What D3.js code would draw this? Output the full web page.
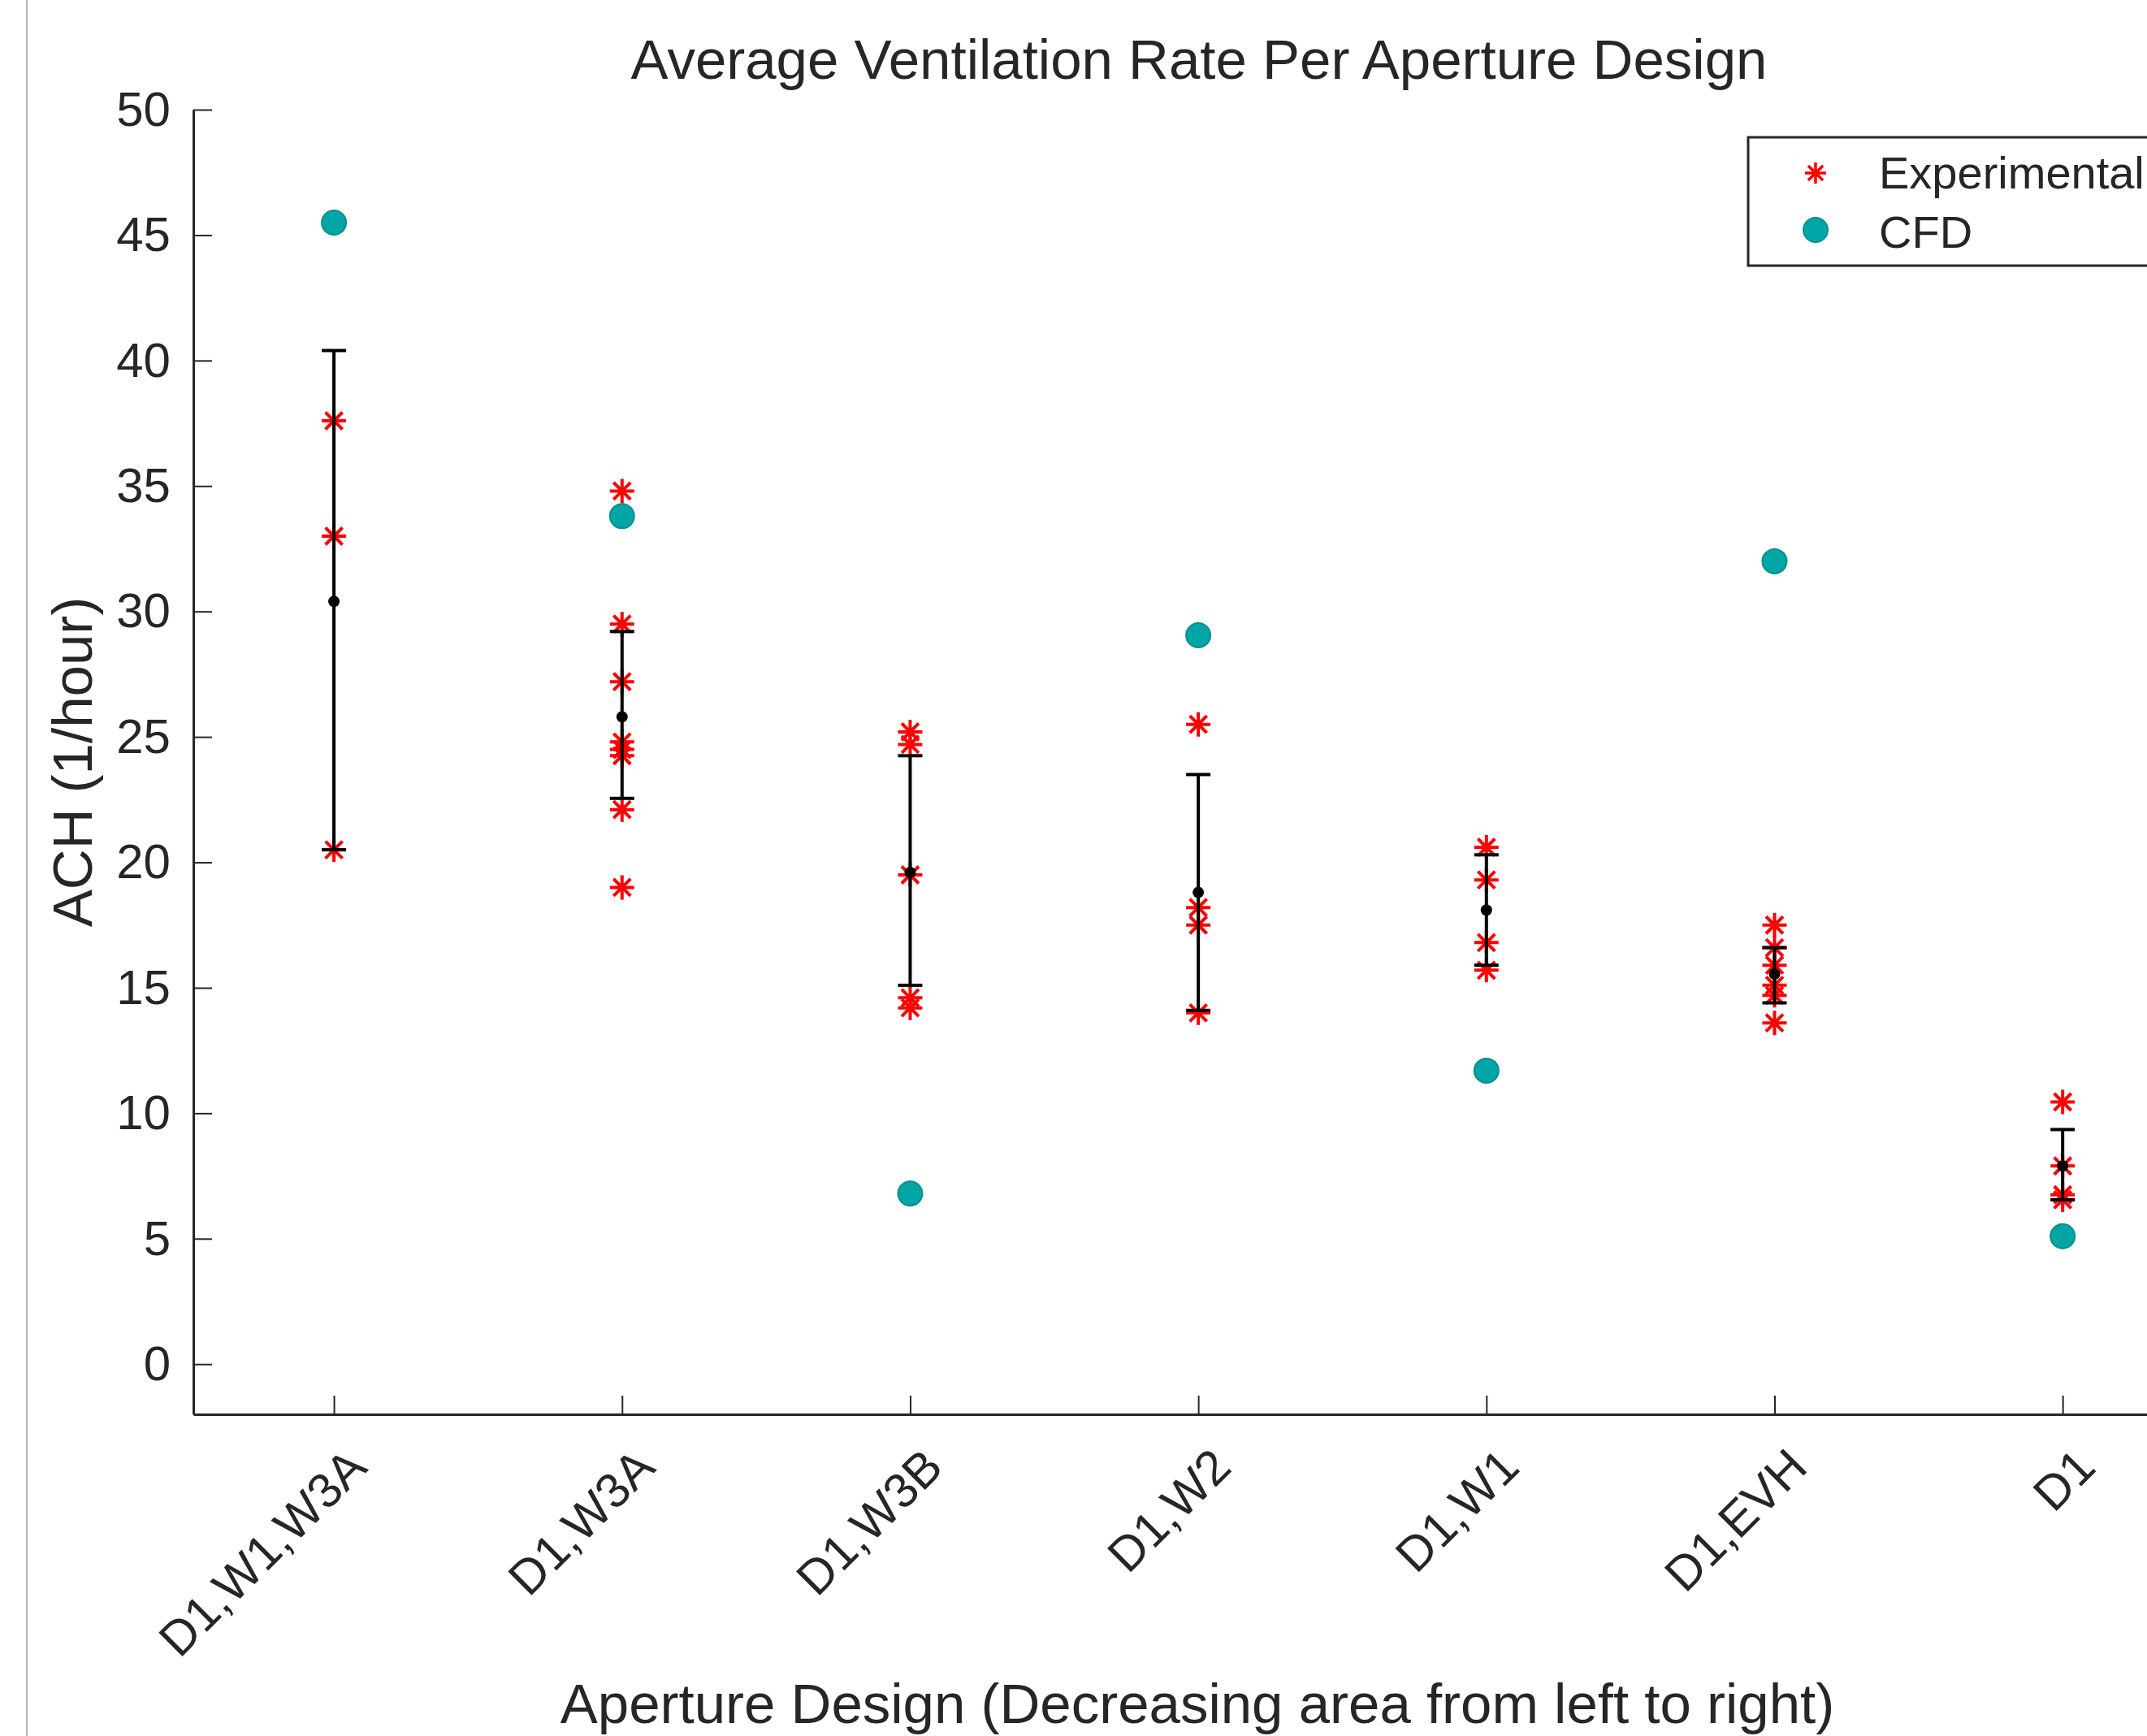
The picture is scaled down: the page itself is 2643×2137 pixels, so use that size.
<!DOCTYPE html>
<html>
<head>
<meta charset="utf-8">
<title>Average Ventilation Rate Per Aperture Design</title>
<script src="https://cdn.jsdelivr.net/npm/d3@7"></script>
<style>
	body { margin: 0; background: #fff; }
	text { font-family: "Liberation Sans", Arial, Helvetica, sans-serif; fill: #262626; }
</style>
</head>
<body>
<div id="chart"></div>
<script>
(function() {

	var categories = ["D1,W1,W3A", "D1,W3A", "D1,W3B", "D1,W2", "D1,W1", "D1,EVH", "D1"];

	// experimental runs per design (1/hour)
	var experimental = [
		[37.6, 33.0, 20.5],
		[34.8, 29.5, 27.2, 24.8, 24.5, 24.25, 22.1, 19.0],
		[25.2, 24.7, 19.5, 14.6, 14.2],
		[25.5, 18.2, 17.5, 14.0],
		[20.6, 19.3, 16.8, 15.7],
		[17.5, 16.6, 15.9, 15.1, 14.7, 13.6],
		[10.45, 7.9, 6.75, 6.55]
	];

	var means = [30.4, 25.8, 19.6, 18.8, 18.1, 15.55, 7.9];
	var errLow = [20.5, 22.55, 15.1, 14.1, 15.9, 14.4, 6.55];
	var errHigh = [40.4, 29.2, 24.25, 23.5, 20.3, 16.6, 9.35];

	var cfd = [45.5, 33.8, 6.8, 29.05, 11.7, 32.0, 5.1];

	var yTicks = [0, 5, 10, 15, 20, 25, 30, 35, 40, 45, 50];

	var width = 2643;
	var height = 2137;
	var axisColor = "#262626";
	var starColor = "#ff0000";
	var cfdColor = "#00a6a6";

	var svg = d3.select("#chart")
				.append("svg")
				.attr("width", width)
				.attr("height", height);

	svg.append("rect")
		.attr("width", width)
		.attr("height", height)
		.attr("fill", "#fff");

	// thin frame line at the left edge of the figure
	svg.append("line")
		.attr("x1", 33).attr("x2", 33)
		.attr("y1", 0).attr("y2", height)
		.attr("stroke", "#b0b0b0")
		.attr("stroke-width", 2);

	var x = d3.scaleLinear().domain([0.512, 7.5]).range([238, 2716.5]);
	var y = d3.scaleLinear().domain([-2, 50]).range([1741, 135]);

	var starPath = function(r){
		var d = r * 0.7;
		return "M" + (-r) + ",0H" + r + "M0," + (-r) + "V" + r +
			"M" + (-d) + "," + (-d) + "L" + d + "," + d +
			"M" + (-d) + "," + d + "L" + d + "," + (-d);
	};

	// axes (MATLAB style, ticks pointing inward)
	var yAxis = svg.append("g")
		.attr("transform", "translate(" + x(0.512) + ",0)")
		.call(d3.axisLeft(y).tickValues(yTicks).tickSizeInner(-23).tickSizeOuter(0).tickPadding(28));

	var xAxis = svg.append("g")
		.attr("transform", "translate(0," + y(-2) + ")")
		.call(d3.axisBottom(x).tickValues(d3.range(1, 8)).tickSizeInner(-23).tickSizeOuter(0).tickFormat(""));

	[yAxis, xAxis].forEach(function(g){
		g.select(".domain").attr("stroke", axisColor).attr("stroke-width", 3);
		g.selectAll(".tick line").attr("stroke", axisColor).attr("stroke-width", 2);
	});

	yAxis.selectAll(".tick text")
		.attr("font-size", 60)
		.attr("fill", axisColor);

	// rotated category labels
	svg.append("g")
		.selectAll("text")
		.data(categories)
		.enter()
		.append("text")
		.attr("transform", function(d, i){
			return "translate(" + (x(i + 1) + 32) + ",1798) rotate(-45)";
		})
		.attr("text-anchor", "end")
		.attr("dominant-baseline", "middle")
		.attr("font-size", 60)
		.text(function(d){ return d; });

	// experimental stars
	var stars = [];
	experimental.forEach(function(vals, i){
		vals.forEach(function(v){ stars.push({i: i, v: v}); });
	});

	svg.append("g")
		.selectAll("path")
		.data(stars)
		.enter()
		.append("path")
		.attr("transform", function(d){
			return "translate(" + x(d.i + 1) + "," + y(d.v) + ")";
		})
		.attr("d", starPath(15))
		.attr("fill", "none")
		.attr("stroke", starColor)
		.attr("stroke-width", 4);

	// error bars with mean
	var bars = svg.append("g")
		.selectAll("g")
		.data(means)
		.enter()
		.append("g");

	bars.append("line")
		.attr("x1", function(d, i){ return x(i + 1); })
		.attr("x2", function(d, i){ return x(i + 1); })
		.attr("y1", function(d, i){ return y(errLow[i]); })
		.attr("y2", function(d, i){ return y(errHigh[i]); })
		.attr("stroke", "#000")
		.attr("stroke-width", 4);

	[errLow, errHigh].forEach(function(arr){
		bars.append("line")
			.attr("x1", function(d, i){ return x(i + 1) - 15; })
			.attr("x2", function(d, i){ return x(i + 1) + 15; })
			.attr("y1", function(d, i){ return y(arr[i]); })
			.attr("y2", function(d, i){ return y(arr[i]); })
			.attr("stroke", "#000")
			.attr("stroke-width", 4);
	});

	bars.append("circle")
		.attr("cx", function(d, i){ return x(i + 1); })
		.attr("cy", function(d){ return y(d); })
		.attr("r", 7)
		.attr("fill", "#000");

	// CFD results
	svg.append("g")
		.selectAll("circle")
		.data(cfd)
		.enter()
		.append("circle")
		.attr("cx", function(d, i){ return x(i + 1); })
		.attr("cy", function(d){ return y(d); })
		.attr("r", 15)
		.attr("fill", cfdColor)
		.attr("stroke", "#0a8e8e")
		.attr("stroke-width", 2);

	// title and axis labels
	svg.append("text")
		.attr("x", 1476)
		.attr("y", 97)
		.attr("text-anchor", "middle")
		.attr("font-size", 69)
		.attr("fill", "#111")
		.text("Average Ventilation Rate Per Aperture Design");

	svg.append("text")
		.attr("x", 1474)
		.attr("y", 2121)
		.attr("text-anchor", "middle")
		.attr("font-size", 69)
		.text("Aperture Design (Decreasing area from left to right)");

	svg.append("text")
		.attr("transform", "translate(113,938) rotate(-90)")
		.attr("text-anchor", "middle")
		.attr("font-size", 69)
		.text("ACH (1/hour)");

	// legend
	var legend = svg.append("g");

	legend.append("rect")
		.attr("x", 2152)
		.attr("y", 169)
		.attr("width", 600)
		.attr("height", 158)
		.attr("fill", "#fff")
		.attr("stroke", axisColor)
		.attr("stroke-width", 3);

	legend.append("path")
		.attr("transform", "translate(2235,213)")
		.attr("d", starPath(13))
		.attr("fill", "none")
		.attr("stroke", starColor)
		.attr("stroke-width", 3.5);

	legend.append("circle")
		.attr("cx", 2235)
		.attr("cy", 283)
		.attr("r", 15)
		.attr("fill", cfdColor)
		.attr("stroke", "#0a8e8e")
		.attr("stroke-width", 2);

	legend.append("text")
		.attr("x", 2313)
		.attr("y", 232)
		.attr("font-size", 56)
		.text("Experimental");

	legend.append("text")
		.attr("x", 2313)
		.attr("y", 305)
		.attr("font-size", 56)
		.text("CFD");

})();
</script>
</body>
</html>
